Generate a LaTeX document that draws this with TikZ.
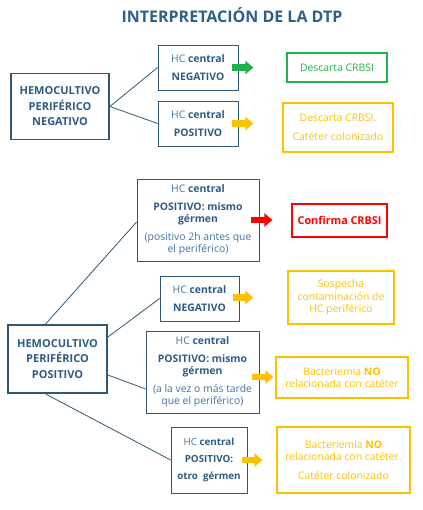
\documentclass[tikz,border=0pt]{standalone}
\usepackage{fontspec}
\setmainfont{Open Sans}
\usetikzlibrary{arrows.meta}

\definecolor{titleblue}{HTML}{2F5D8C}
\definecolor{darkblue}{HTML}{2E5A87}
\definecolor{lightblue}{HTML}{4272A8}
\definecolor{frameblue}{HTML}{2F5873}
\definecolor{okgreen}{HTML}{1FB24A}
\definecolor{alertred}{HTML}{FF0000}
\definecolor{warnyellow}{HTML}{FFC000}

\newcommand{\hccentral}{\textcolor{lightblue}{HC} \textbf{central}}

\begin{document}
\begin{tikzpicture}[x=1pt, y=-1pt,
    every node/.style={inner sep=1pt, align=center},
    hemobox/.style={draw=frameblue, line width=1.8pt, text=darkblue,
        font=\fontsize{11}{15.5}\selectfont\bfseries,
        minimum width=98pt, minimum height=66pt},
    hcbox/.style={draw=frameblue, line width=0.8pt, text=darkblue,
        font=\fontsize{10.4}{12}\selectfont},
    resbox/.style={line width=1.5pt, font=\fontsize{10.4}{12.5}\selectfont},
    branch/.style={draw=frameblue, line width=0.8pt},
    fatarrow/.style={line width=6.5pt, -{Triangle[width=13pt,length=8pt]}}
]
    \useasboundingbox (0,0) rectangle (422,510);

    % title
    \node[text=titleblue, font=\fontsize{16}{18}\selectfont\bfseries] (title) at (232,15)
        {INTERPRETACIÓN DE LA DTP};

    % peripheral negative
    \node[hemobox] (pneg) at (60,106.5) {HEMOCULTIVO\\PERIFÉRICO\\NEGATIVO};

    \node[hcbox, minimum width=80pt, minimum height=45pt] (hcA) at (198,67.5)
        {\hccentral\\[6pt]\textbf{NEGATIVO}};
    \node[hcbox, minimum width=80pt, minimum height=45pt] (hcB) at (198,123.5)
        {\hccentral\\[6pt]\textbf{POSITIVO}};

    \node[resbox, draw=okgreen, text=okgreen, minimum width=100pt, minimum height=29pt]
        (resA) at (337,67.5) {Descarta CRBSI};
    \node[resbox, draw=warnyellow, text=warnyellow, minimum width=110pt, minimum height=49pt]
        (resB) at (338,127.5) {Descarta CRBSI.\\[6.5pt]Catéter colonizado};

    \draw[branch] (pneg.east) -- (hcA.west);
    \draw[branch] (pneg.east) -- (hcB.west);

    % peripheral positive
    \node[hemobox, minimum width=99pt, minimum height=68pt] (ppos) at (57.5,359)
        {HEMOCULTIVO\\PERIFÉRICO\\POSITIVO};

    \node[hcbox, minimum width=122pt, minimum height=82pt] (hcC) at (198,220)
        {\hccentral\\[6pt]\textbf{POSITIVO: mismo}\\\textbf{gérmen}\\[6pt]
         \textcolor{lightblue}{(positivo 2h antes que}\\\textcolor{lightblue}{el periférico)}};
    \node[hcbox, minimum width=79pt, minimum height=45pt] (hcD) at (199.5,298.5)
        {\hccentral\\[6pt]\textbf{NEGATIVO}};
    \node[hcbox, minimum width=113pt, minimum height=82pt] (hcE) at (202.5,372)
        {\hccentral\\[6pt]\textbf{POSITIVO: mismo}\\\textbf{gérmen}\\[6pt]
         \textcolor{lightblue}{(a la vez o más tarde}\\\textcolor{lightblue}{que el periférico)}};
    \node[hcbox, minimum width=76pt, minimum height=66pt, font=\fontsize{9.8}{12}\selectfont] (hcF) at (209,460)
        {\hccentral\\[5pt]\textbf{POSITIVO:}\\[5pt]\textbf{otro\ \ gérmen}};

    \node[resbox, draw=alertred, text=alertred, font=\fontsize{10.8}{12.5}\selectfont\bfseries,
        minimum width=95pt, minimum height=33pt] (resC) at (339.5,220.5) {Confirma CRBSI};
    \node[resbox, draw=warnyellow, text=warnyellow, minimum width=106pt, minimum height=53pt]
        (resD) at (341,297.5) {Sospecha\\contaminación de\\HC periférico};
    \node[resbox, draw=warnyellow, text=warnyellow, minimum width=132pt, minimum height=41pt]
        (resE) at (342,377.5) {Bacteriemia \textbf{NO}\\relacionada con catéter};
    \node[resbox, draw=warnyellow, text=warnyellow, minimum width=133pt, minimum height=66pt]
        (resF) at (343.5,460) {Bacteriemia \textbf{NO}\\relacionada con catéter.\\[6pt]Catéter colonizado};

    \draw[branch] ([xshift=-12pt]ppos.north) -- ([yshift=-2pt]hcC.west);
    \draw[branch] ([yshift=22pt]ppos.east) -- (hcD.west);
    \draw[branch] ([yshift=-16pt]ppos.east) -- ([yshift=-17pt]hcE.west);
    \draw[branch] ([xshift=-12pt]ppos.south) -- (hcF.west);

    % arrows
    \draw[fatarrow, okgreen] ([xshift=-6pt]hcA.east) -- ([xshift=15pt]hcA.east);
    \draw[fatarrow, alertred] ([xshift=-8pt]hcC.east) -- ([xshift=13pt]hcC.east);
    \foreach \n/\s/\e/\y in {hcB/-6/15/0, hcD/-6/14/1, hcE/-7/14/-5, hcF/-5/15/0} {
        \draw[fatarrow, warnyellow] ([xshift=\s pt, yshift=\y pt]\n.east) -- ([xshift=\e pt, yshift=\y pt]\n.east);
    }

\end{tikzpicture}
\end{document}
